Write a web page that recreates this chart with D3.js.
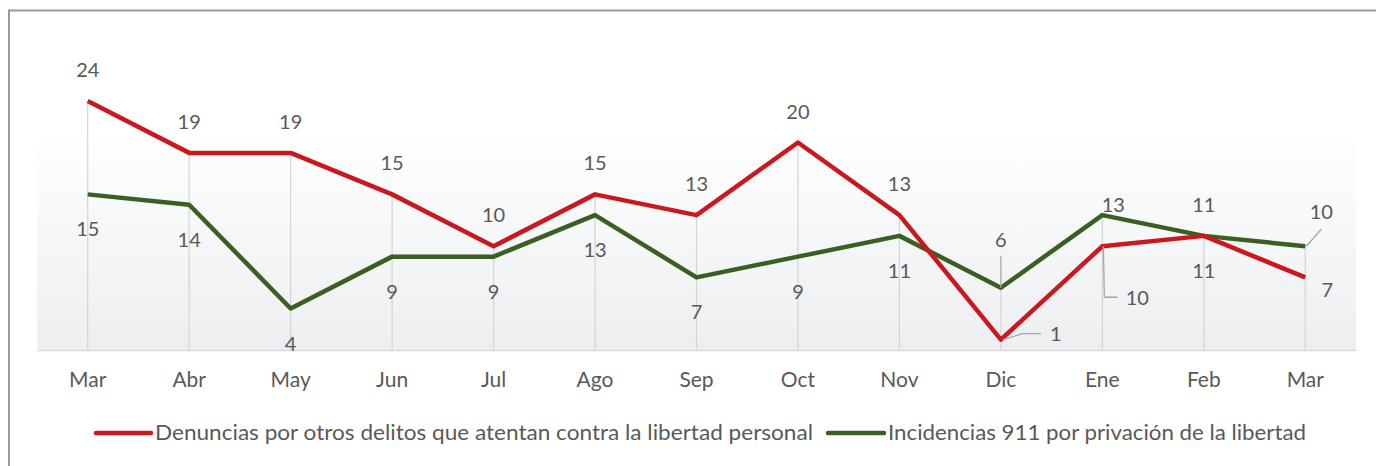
<!DOCTYPE html>
<html>
<head>
<meta charset="utf-8">
<script src="https://cdn.jsdelivr.net/npm/d3@7"></script>
<style>
  body { margin: 0; background: #fff; }
  text { font-family: Lato, "Open Sans", sans-serif; fill: #595959; }
</style>
</head>
<body>
<div class="chart"></div>
<script>
const months = ["Mar", "Abr", "May", "Jun", "Jul", "Ago", "Sep", "Oct", "Nov", "Dic", "Ene", "Feb", "Mar"];
const denuncias = [24, 19, 19, 15, 10, 15, 13, 20, 13, 1, 10, 11, 7];
const incidencias = [15, 14, 4, 9, 9, 13, 7, 9, 11, 6, 13, 11, 10];
const seriesNames = [
  "Denuncias por otros delitos que atentan contra la libertad personal",
  "Incidencias 911 por privación de la libertad"
];

const width = 1376;
const height = 466;
const red = "#c9191e";
const green = "#3b5e23";

const svg = d3
  .select(".chart")
  .append("svg")
  .attr("width", width)
  .attr("height", height);

// outer frame (right and bottom edges fall outside the picture)
svg
  .append("rect")
  .attr("x", 9)
  .attr("y", 10.5)
  .attr("width", width + 20)
  .attr("height", height + 20)
  .attr("fill", "none")
  .attr("stroke", "#9a9a9a")
  .attr("stroke-width", 2);

const x = d3
  .scaleBand()
  .domain(d3.range(months.length))
  .range([37, 1356]);
const cx = i => x(i) + x.bandwidth() / 2;

const y = d3
  .scaleLinear()
  .domain([0, 30])
  .range([350, 38.75]);

// soft grey background gradient
const grad = svg
  .append("defs")
  .append("linearGradient")
  .attr("id", "bg")
  .attr("x1", 0)
  .attr("y1", 0)
  .attr("x2", 0)
  .attr("y2", 1);
grad.append("stop").attr("offset", "0%").attr("stop-color", "#ffffff");
grad.append("stop").attr("offset", "100%").attr("stop-color", "#eceef1");

svg
  .append("rect")
  .attr("x", 37)
  .attr("y", y(21))
  .attr("width", 1356 - 37)
  .attr("height", 350 - y(21))
  .attr("fill", "url(#bg)");

// drop lines from the higher point to the axis
svg
  .append("g")
  .selectAll("line")
  .data(months)
  .enter()
  .append("line")
  .attr("x1", (d, i) => cx(i))
  .attr("x2", (d, i) => cx(i))
  .attr("y1", (d, i) => y(Math.max(denuncias[i], incidencias[i])))
  .attr("y2", y(0))
  .attr("stroke", "#d4d4d4")
  .attr("stroke-width", 1.2);

const xAxis = d3
  .axisBottom(x)
  .tickSize(0)
  .tickPadding(22)
  .tickFormat(i => months[i]);
const gx = svg
  .append("g")
  .attr("transform", `translate(0, ${y(0)})`)
  .call(xAxis);
gx.select(".domain").attr("stroke", "#d9d9d9").attr("stroke-width", 1.5);
gx.selectAll("text")
  .style("font-size", "21px")
  .style("font-family", "Lato, sans-serif")
  .attr("fill", "#606060");

const line = d3
  .line()
  .x((d, i) => cx(i))
  .y(d => y(d));

svg
  .append("path")
  .datum(incidencias)
  .attr("d", line)
  .attr("fill", "none")
  .attr("stroke", green)
  .attr("stroke-width", 4.5)
  .attr("stroke-linejoin", "round");

svg
  .append("path")
  .datum(denuncias)
  .attr("d", line)
  .attr("fill", "none")
  .attr("stroke", red)
  .attr("stroke-width", 4.5)
  .attr("stroke-linejoin", "round");

// label placement: default red above, green below; exceptions by index
const redPos = { 9: [55, -6], 10: [35, 52], 11: [0, 35], 12: [22, 13] };
const greenPos = { 9: [0, -48], 10: [11, -10], 11: [0, -31], 12: [16, -34] };
const redDefault = [0, -31];
const greenDefault = [0, 35];

function addLabels(values, pos, def) {
  svg
    .append("g")
    .selectAll("text")
    .data(values)
    .enter()
    .append("text")
    .attr("x", (d, i) => cx(i) + (pos[i] || def)[0])
    .attr("y", (d, i) => y(d) + (pos[i] || def)[1])
    .attr("dy", "0.35em")
    .attr("text-anchor", "middle")
    .style("font-size", "20px")
    .text(d => d);
}
addLabels(denuncias, redPos, redDefault);
addLabels(incidencias, greenPos, greenDefault);

// leader lines
const leader = pts =>
  svg
    .append("path")
    .attr("d", d3.line()(pts))
    .attr("fill", "none")
    .attr("stroke", "#a6a6a6")
    .attr("stroke-width", 1.3);
leader([[cx(9), y(incidencias[9])], [cx(9), y(incidencias[9]) - 32]]);
leader([[cx(9) + 2, y(denuncias[9])], [cx(9) + 22, y(denuncias[9]) - 6], [cx(9) + 40, y(denuncias[9]) - 6]]);
leader([[cx(10) + 1, y(denuncias[10])], [cx(10) + 2, y(denuncias[10]) + 51], [cx(10) + 15, y(denuncias[10]) + 51]]);
leader([[cx(12) + 1, y(incidencias[12])], [cx(12) + 16, y(incidencias[12]) - 17]]);

// legend
const legend = svg.append("g").attr("transform", "translate(0, 433)");
const items = [
  { name: seriesNames[0], color: red, x1: 96, x2: 151, w: 658 },
  { name: seriesNames[1], color: green, x1: 828, x2: 884, w: 418 }
];
items.forEach(it => {
  legend
    .append("line")
    .attr("x1", it.x1)
    .attr("x2", it.x2)
    .attr("stroke", it.color)
    .attr("stroke-width", 4.5)
    .attr("stroke-linecap", "round");
  legend
    .append("text")
    .attr("x", it.x2 + 4)
    .attr("dy", "0.35em")
    .style("font-size", "21px")
    .attr("textLength", it.w)
    .attr("lengthAdjust", "spacingAndGlyphs")
    .text(it.name);
});
</script>
</body>
</html>
